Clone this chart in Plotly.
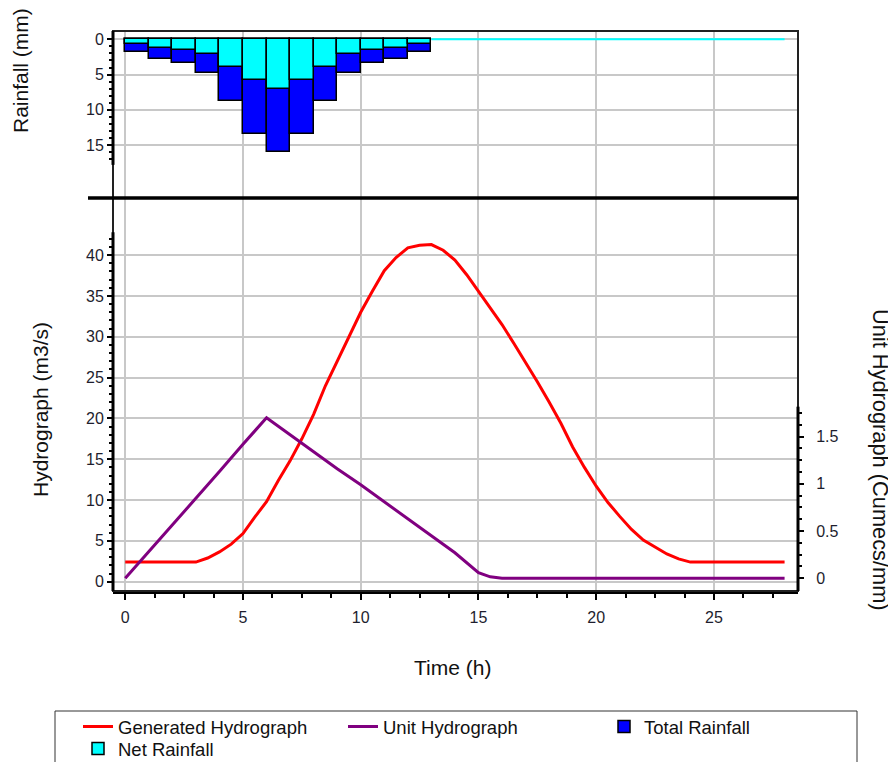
import plotly.graph_objects as go

# ---------------- data ----------------
rain_hour = list(range(13))  # start of each hourly rainfall interval (h)
total_rain = [1.75, 2.75, 3.4, 4.8, 8.7, 13.4, 16.0, 13.4, 8.7, 4.8, 3.4, 2.75, 1.75]
net_rain = [0.66, 1.2, 1.5, 2.1, 3.9, 5.8, 7.0, 5.8, 3.9, 2.1, 1.5, 1.2, 0.66]
dry_hour = [13, 28]
dry_net = [0, 0]

gen_t = [i * 0.5 for i in range(57)]
gen_q = [2.4, 2.4, 2.4, 2.4, 2.4, 2.4, 2.4, 2.9, 3.65, 4.6,
         5.9, 7.9, 9.8, 12.4, 14.8, 17.5, 20.5, 24.0, 27.0, 30.0,
         33.0, 35.6, 38.1, 39.7, 40.9, 41.2, 41.3, 40.6, 39.4, 37.6,
         35.6, 33.6, 31.5, 29.2, 26.9, 24.5, 22.0, 19.4, 16.5, 14.0,
         11.7, 9.7, 8.0, 6.4, 5.1, 4.2, 3.4, 2.8, 2.4, 2.4,
         2.4, 2.4, 2.4, 2.4, 2.4, 2.4, 2.4]

uh_t = list(range(16)) + [15.5] + list(range(16, 29))
uh_q = [0, 0.28, 0.57, 0.85, 1.13, 1.42, 1.70, 1.52, 1.34, 1.16,
        0.99, 0.81, 0.63, 0.45, 0.27, 0.06, 0.015,
        0, 0, 0, 0, 0, 0, 0, 0, 0, 0, 0, 0, 0]

x_ticks = [0, 5, 10, 15, 20, 25]
rain_ticks = [0, 5, 10, 15]
q_ticks = [0, 5, 10, 15, 20, 25, 30, 35, 40]
uh_ticks = [0, 0.5, 1, 1.5]

# ---------------- geometry helpers ----------------
OFF = 8  # page body margin
W, H = 896 - OFF, 762 - OFF
L, R, T, B = 113, 798, 31, 591   # plot area in page pixels
SEP = 198


def px(x):
    return (x - L) / (R - L)


def py(y):
    return (B - y) / (B - T)


FONT = "Arial, Liberation Sans, sans-serif"
GRID = "#c8c8c8"
TXT = "#1e1e2e"

fig = go.Figure()

fig.add_trace(go.Scatter(x=gen_t, y=gen_q, mode="lines", name="Generated Hydrograph",
                         line=dict(color="#ff0000", width=3), xaxis="x", yaxis="y2",
                         legend="legend"))
fig.add_trace(go.Scatter(x=uh_t, y=uh_q, mode="lines", name="Unit Hydrograph",
                         line=dict(color="#800080", width=3), xaxis="x", yaxis="y3",
                         legend="legend2"))
fig.add_trace(go.Bar(x=rain_hour, y=total_rain, name="Total Rainfall", offset=0, width=1,
                     marker=dict(color="#0000ff", line=dict(color="black", width=1.5)),
                     xaxis="x2", yaxis="y", legend="legend3"))
fig.add_trace(go.Bar(x=rain_hour, y=net_rain, name="Net Rainfall", offset=0, width=1,
                     marker=dict(color="#00ffff", line=dict(color="black", width=1.5)),
                     xaxis="x2", yaxis="y", legend="legend4"))
fig.add_trace(go.Scatter(x=dry_hour, y=dry_net, mode="lines", showlegend=False,
                         line=dict(color="#00ffff", width=2), xaxis="x2", yaxis="y"))

xr = [-0.52, 28.57]
tickfont = dict(family=FONT, size=16, color=TXT)
legfont = dict(family=FONT, size=18.5, color="#111111")


def leg(xpage, ytop):
    return dict(orientation="v", xref="paper", yref="paper",
                x=px(xpage), y=py(ytop), xanchor="left", yanchor="top",
                borderwidth=0, bgcolor="rgba(0,0,0,0)", font=legfont, tracegroupgap=0)


fig.update_layout(
    width=W, height=H,
    margin=dict(l=L - OFF, r=W - (R - OFF), t=T - OFF, b=H - (B - OFF), autoexpand=False),
    paper_bgcolor="white", plot_bgcolor="white",
    barmode="overlay", bargap=0,
    font=dict(family=FONT, size=16, color=TXT),
    xaxis=dict(domain=[0, 1], anchor="y2", range=xr, tickvals=x_ticks,
               showgrid=True, gridcolor=GRID, gridwidth=1.6, zeroline=False,
               showline=True, linecolor="black", linewidth=3,
               ticks="outside", ticklen=6, tickcolor="black", tickwidth=1.5,
               ticklabelstandoff=4, tickfont=tickfont,
               minor=dict(dtick=1.25, tick0=0, ticks="outside", ticklen=4,
                          tickcolor="black", showgrid=False)),
    xaxis2=dict(domain=[0, 1], anchor="y", matches="x", range=xr, tickvals=x_ticks,
                showticklabels=False, showgrid=True, gridcolor=GRID, gridwidth=1.6,
                zeroline=False, showline=False, ticks=""),
    yaxis=dict(domain=[py(SEP), 1], anchor="x2", range=[22.5, -1.18],
               tickvals=rain_ticks, showgrid=True, gridcolor=GRID, gridwidth=1.6,
               zeroline=False, showline=False, ticks="outside", ticklen=5,
               tickcolor="black", tickwidth=1.5, tickfont=tickfont,
               minor=dict(tickmode="array", tickvals=list(range(1, 18)), ticks="outside",
                          ticklen=3, tickcolor="black", showgrid=False)),
    yaxis2=dict(domain=[0, py(SEP)], anchor="x", range=[-1.14, 47.0],
                tickvals=q_ticks, showgrid=True, gridcolor=GRID, gridwidth=1.6,
                zeroline=False, showline=False, ticks="outside", ticklen=5,
                tickcolor="black", tickwidth=1.5, tickfont=tickfont,
                minor=dict(tickmode="array", tickvals=list(range(1, 43)), ticks="outside",
                           ticklen=3, tickcolor="black", showgrid=False)),
    yaxis3=dict(overlaying="y2", anchor="x", side="right", range=[-0.135, 4.029],
                tickvals=uh_ticks, showgrid=False, zeroline=False, showline=False,
                ticks="outside", ticklen=5, tickcolor="black", tickwidth=1.5,
                ticklabelstandoff=9, tickfont=tickfont,
                minor=dict(tickmode="array",
                           tickvals=[0.125, 0.25, 0.375, 0.625, 0.75, 0.875,
                                     1.125, 1.25, 1.375, 1.625, 1.75],
                           ticks="outside", ticklen=3, tickcolor="black", showgrid=False)),
    legend=leg(78, 708),
    legend2=leg(343, 708),
    legend3=leg(604, 708),
    legend4=leg(78, 730),
    shapes=[
        # plot frame
        dict(type="rect", xref="paper", yref="paper", x0=0, x1=1, y0=0, y1=1,
             line=dict(color="#222222", width=2), layer="above"),
        # separator between panels
        dict(type="line", xref="paper", yref="paper", x0=px(88), x1=1, y0=py(SEP), y1=py(SEP),
             line=dict(color="black", width=3.5), layer="above"),
        # thick axis segments
        dict(type="line", xref="paper", yref="y", x0=0, x1=0, y0=-1.18, y1=17.8,
             line=dict(color="black", width=3), layer="above"),
        dict(type="line", xref="paper", yref="y2", x0=0, x1=0, y0=-1.14, y1=42.8,
             line=dict(color="black", width=3), layer="above"),
        dict(type="line", xref="paper", yref="y3", x0=1, x1=1, y0=-0.135, y1=1.818,
             line=dict(color="black", width=3), layer="above"),
        # legend box
        dict(type="rect", xref="paper", yref="paper", x0=px(55), x1=px(857),
             y0=py(790), y1=py(711), line=dict(color="#333333", width=1),
             fillcolor="rgba(0,0,0,0)", layer="below"),
    ],
    annotations=[
        dict(text="Rainfall (mm)", xref="paper", yref="paper", x=px(21), y=py(71),
             xanchor="center", yanchor="middle", textangle=-90, showarrow=False,
             font=dict(size=21, family=FONT, color="#111111")),
        dict(text="Hydrograph (m3/s)", xref="paper", yref="paper", x=px(40), y=py(410),
             xanchor="center", yanchor="middle", textangle=-90, showarrow=False,
             font=dict(size=21, family=FONT, color="#111111")),
        dict(text="Unit Hydrograph (Cumecs/mm)", xref="paper", yref="paper", x=px(880), y=py(460),
             xanchor="center", yanchor="middle", textangle=90, showarrow=False,
             font=dict(size=21.8, family=FONT, color="#111111")),
        dict(text="Time (h)", xref="paper", yref="paper", x=px(452), y=py(667),
             xanchor="center", yanchor="middle", showarrow=False,
             font=dict(size=21, family=FONT, color="#111111")),
    ],
)

fig.write_html("out.html")
